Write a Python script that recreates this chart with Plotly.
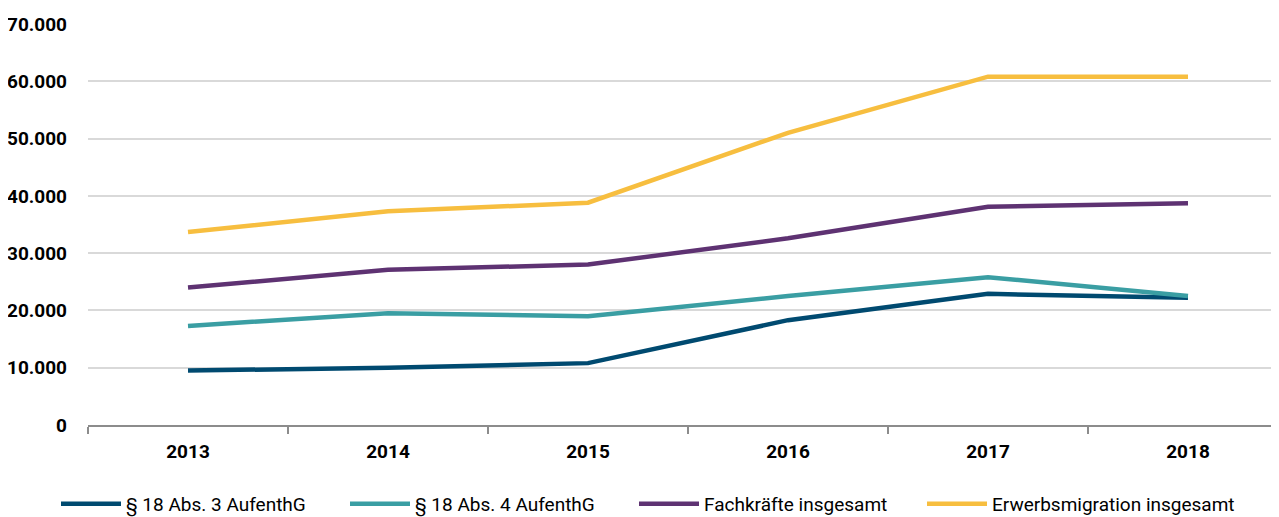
import plotly.graph_objects as go

years = ["2013", "2014", "2015", "2016", "2017", "2018"]
abs3 = [9500, 10000, 10800, 18300, 22900, 22200]
abs4 = [17300, 19500, 19000, 22500, 25800, 22500]
fachkraefte = [24000, 27100, 28000, 32600, 38100, 38700]
erwerb = [33700, 37300, 38800, 51000, 60800, 60800]

series_names = ["§ 18 Abs. 3 AufenthG", "§ 18 Abs. 4 AufenthG", "Fachkräfte insgesamt", "Erwerbsmigration insgesamt"]
series_vals = [abs3, abs4, fachkraefte, erwerb]
colors = ["#004A70", "#3A9EA3", "#5E3272", "#F7BE3F"]
legend_ids = ["legend", "legend", "legend", "legend2"]

font_family = "Roboto, Open Sans, sans-serif"

W, H = 1271, 509

fig = go.Figure()
for name, vals, c, lg in zip(series_names, series_vals, colors, legend_ids):
    fig.add_trace(go.Scatter(x=years, y=vals, name=name, mode="lines",
                             line=dict(color=c, width=4.5), legend=lg))

leg_common = dict(orientation="h", xref="container", xanchor="left",
                  yref="container", y=13/H, yanchor="middle",
                  font=dict(size=19, family=font_family), itemwidth=60,
                  traceorder="normal", bgcolor="rgba(0,0,0,0)")

fig.update_layout(
    width=W, height=H,
    margin=dict(l=80, r=0, t=16, b=92, autoexpand=False),
    plot_bgcolor="white", paper_bgcolor="white",
    font=dict(family=font_family, color="#000000"),
    showlegend=True,
    legend=dict(x=48/W, entrywidth=214, entrywidthmode="pixels", **leg_common),
    legend2=dict(x=914/W, **leg_common),
)
fig.update_xaxes(
    type="category", range=[-0.5, 5.455],
    showgrid=False, showline=True, linecolor="#8c8c8c", linewidth=2,
    ticks="outside", tickson="boundaries", ticklen=7, tickcolor="#8c8c8c", tickwidth=1.5,
    tickfont=dict(size=19, family=font_family, weight="bold"),
    ticklabelstandoff=8,
)
fig.update_yaxes(
    range=[0, 70000], dtick=10000, tickformat=",d",
    showgrid=True, gridcolor="#d9d9d9", gridwidth=1.5,
    zeroline=False, showline=False,
    tickfont=dict(size=19, family=font_family, weight="bold"),
    ticklabelstandoff=20,
)
fig.update_layout(separators=",.")

fig.write_html("out.html")
